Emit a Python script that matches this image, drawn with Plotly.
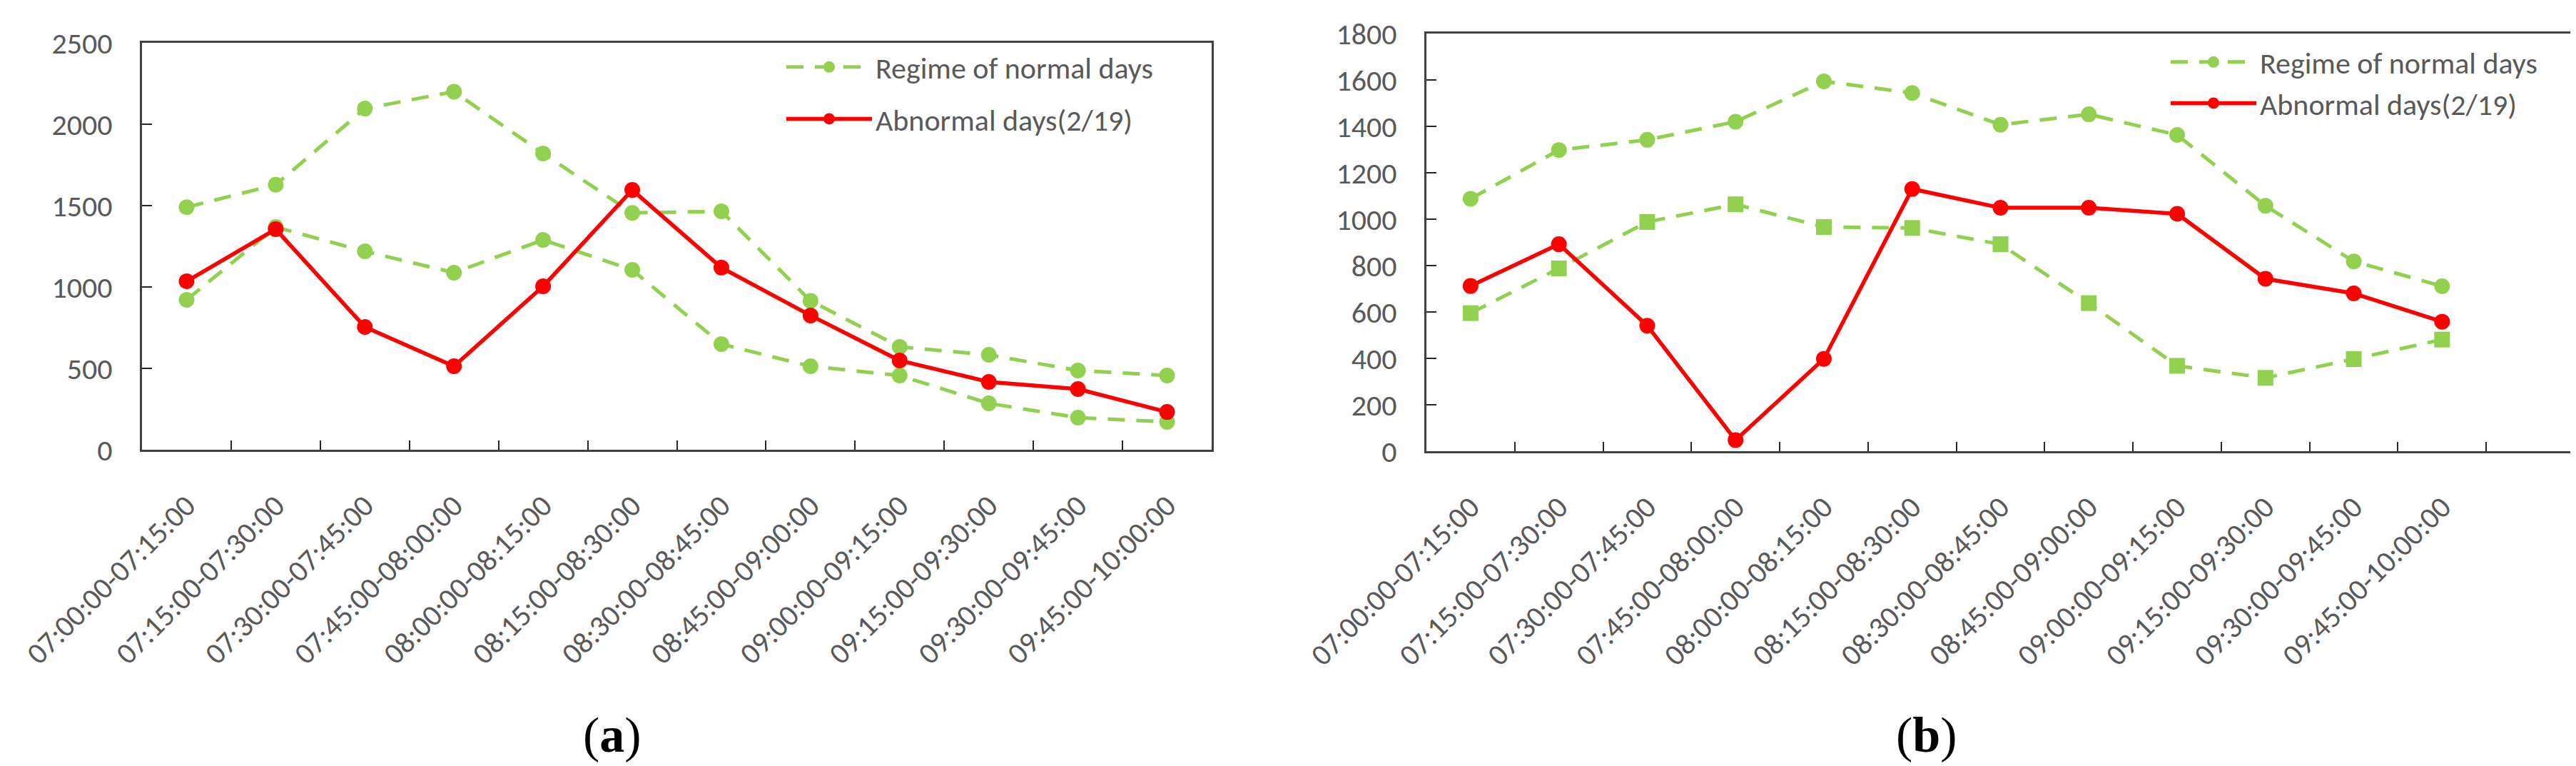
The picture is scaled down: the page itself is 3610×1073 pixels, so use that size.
import plotly.graph_objects as go

categories = ["07:00:00-07:15:00", "07:15:00-07:30:00", "07:30:00-07:45:00",
              "07:45:00-08:00:00", "08:00:00-08:15:00", "08:15:00-08:30:00",
              "08:30:00-08:45:00", "08:45:00-09:00:00", "09:00:00-09:15:00",
              "09:15:00-09:30:00", "09:30:00-09:45:00", "09:45:00-10:00:00"]

a_normal_upper = [1490, 1628, 2096, 2200, 1820, 1455, 1465, 915, 632, 583, 487, 456]
a_normal_lower = [921, 1368, 1219, 1088, 1289, 1105, 649, 513, 456, 285, 197, 171]
a_abnormal = [1035, 1355, 754, 513, 1004, 1596, 1119, 825, 548, 417, 373, 232]

b_normal_upper = [1088, 1298, 1342, 1420, 1594, 1544, 1407, 1452, 1363, 1058, 818, 711]
b_normal_lower = [595, 788, 988, 1064, 966, 962, 892, 638, 368, 316, 397, 481]
b_abnormal = [712, 892, 541, 48, 398, 1130, 1049, 1049, 1023, 743, 680, 558]

series_names = ["Regime of normal days", "Abnormal days(2/19)"]
panel_labels = ["(<b>a</b>)", "(<b>b</b>)"]

GREEN = "#92D050"
RED = "#FF0000"
GRAY = "#595959"
FONT = "Carlito, 'Liberation Sans Narrow', Lato, sans-serif"

W, H = 3610, 1073

fig = go.Figure()

def add_panel(xa, ya, leg, upper, lower, abnormal, lower_symbol):
    fig.add_trace(go.Scatter(x=categories, y=upper, xaxis=xa, yaxis=ya, mode="lines+markers",
                             name=series_names[0], legend=leg, legendgroup=leg + "g1",
                             line=dict(color=GREEN, width=5, dash="24px,16px"),
                             marker=dict(symbol="circle", size=22, color=GREEN)))
    fig.add_trace(go.Scatter(x=categories, y=lower, xaxis=xa, yaxis=ya, mode="lines+markers",
                             name=series_names[0], legend=leg, showlegend=False,
                             line=dict(color=GREEN, width=5, dash="24px,16px"),
                             marker=dict(symbol=lower_symbol, size=22, color=GREEN)))
    fig.add_trace(go.Scatter(x=categories, y=abnormal, xaxis=xa, yaxis=ya, mode="lines+markers",
                             name=series_names[1], legend=leg, legendgroup=leg + "g2",
                             line=dict(color=RED, width=5.5),
                             marker=dict(symbol="circle", size=22, color=RED)))

add_panel("x", "y", "legend", a_normal_upper, a_normal_lower, a_abnormal, "circle")
add_panel("x2", "y2", "legend2", b_normal_upper, b_normal_lower, b_abnormal, "square")

common_x = dict(type="category", categoryorder="array", categoryarray=categories,
                tickson="boundaries", ticks="inside", ticklen=13, tickwidth=2, tickcolor="#262626",
                showline=True, linecolor="#404040", linewidth=3, mirror=True,
                showgrid=False, zeroline=False, tickangle=-45, automargin=False,
                tickfont=dict(family=FONT, size=42, color=GRAY), ticklabelstandoff=34)
common_y = dict(ticks="inside", ticklen=14, tickwidth=2, tickcolor="#262626",
                showline=True, linecolor="#404040", linewidth=3, mirror=True,
                showgrid=False, zeroline=False, automargin=False,
                tickfont=dict(family=FONT, size=42, color=GRAY), ticklabelstandoff=30)

fig.update_layout(
    width=W, height=H, margin=dict(l=0, r=0, t=0, b=0, autoexpand=False),
    paper_bgcolor="white", plot_bgcolor="white",
    xaxis=dict(common_x, domain=[191 / W, 1690 / W], range=[-0.5, 11.5], anchor="y"),
    yaxis=dict(common_y, domain=[1 - 622 / H, 1 - 52 / H], range=[0, 2500], dtick=500, anchor="x"),
    xaxis2=dict(common_x, domain=[1991 / W, 3600 / W], range=[-0.5, 12.5], anchor="y2"),
    yaxis2=dict(common_y, domain=[1 - 624 / H, 1 - 39 / H], range=[0, 1800], dtick=200, anchor="x2"),
    legend=dict(x=1089 / W, y=1 - 52 / H, xanchor="left", yanchor="top",
                bgcolor="rgba(0,0,0,0)", traceorder="grouped", tracegroupgap=15,
                itemwidth=120, font=dict(family=FONT, size=42, color=GRAY)),
    legend2=dict(x=3029 / W, y=1 - 45 / H, xanchor="left", yanchor="top",
                 bgcolor="rgba(0,0,0,0)", traceorder="grouped", tracegroupgap=0,
                 itemwidth=120, font=dict(family=FONT, size=42, color=GRAY)),
    annotations=[
        dict(text=panel_labels[0], x=850 / W, y=1 - 1021 / H, xref="paper", yref="paper",
             xanchor="center", yanchor="middle", showarrow=False,
             font=dict(family="'Liberation Serif', 'DejaVu Serif', serif", size=70, color="black")),
        dict(text=panel_labels[1], x=2692 / W, y=1 - 1021 / H, xref="paper", yref="paper",
             xanchor="center", yanchor="middle", showarrow=False,
             font=dict(family="'Liberation Serif', 'DejaVu Serif', serif", size=70, color="black")),
    ],
)

fig.write_html("out.html")
